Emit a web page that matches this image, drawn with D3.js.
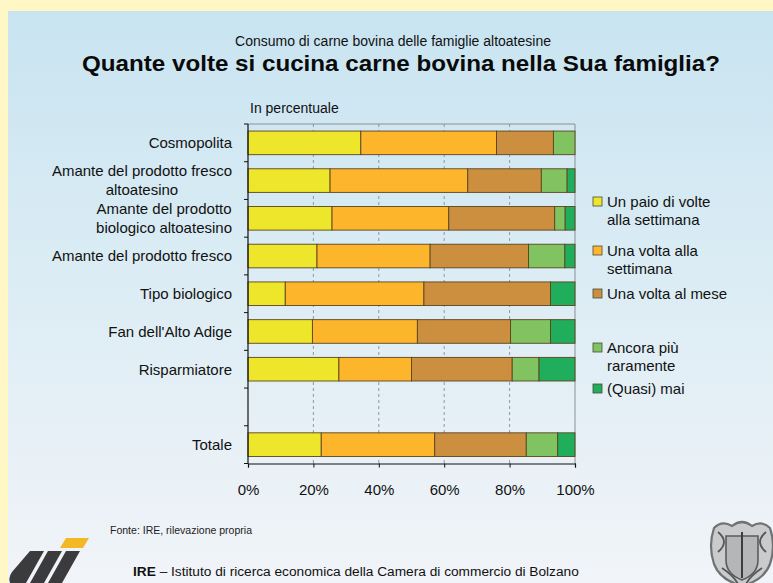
<!DOCTYPE html>
<html>
<head>
<meta charset="utf-8">
<script src="https://cdn.jsdelivr.net/npm/d3@7"></script>
<style>
  html, body { margin: 0; padding: 0; background: #FFF8C6; }
  svg { display: block; font-family: "Liberation Sans", Arial, Helvetica, sans-serif; }
</style>
</head>
<body>
<script>
// Consumption of beef in South Tyrolean households, by consumer type (percent)
const categories = [
  "Cosmopolita",
  "Amante del prodotto fresco\naltoatesino",
  "Amante del prodotto\nbiologico altoatesino",
  "Amante del prodotto fresco",
  "Tipo biologico",
  "Fan dell'Alto Adige",
  "Risparmiatore",
  "Totale"
];

const seriesNames = [
  "Un paio di volte\nalla settimana",
  "Una volta alla\nsettimana",
  "Una volta al mese",
  "Ancora più\nraramente",
  "(Quasi) mai"
];

const paioDiVolte   = [34.5, 25.1, 25.7, 21.1, 11.4, 19.7, 27.8, 22.4];
const unaSettimana  = [41.5, 42.1, 35.7, 34.6, 42.4, 32.1, 22.2, 34.7];
const unaMese       = [17.4, 22.5, 32.4, 30.1, 38.7, 28.5, 30.8, 28.0];
const piuRaramente  = [ 6.6,  7.9,  3.2, 11.1,  0.0, 12.2,  8.2,  9.6];
const quasiMai      = [ 0.0,  2.4,  3.0,  3.1,  7.5,  7.5, 11.0,  5.3];

const xTicks = [0, 20, 40, 60, 80, 100];

const seriesValues = [paioDiVolte, unaSettimana, unaMese, piuRaramente, quasiMai];
const colors = ["#EEE62B", "#FDB62B", "#CC8F3F", "#80C360", "#20AD5C"];

// ---- layout ----
const W = 773, H = 583;
const plot = { left: 248, right: 575, top: 124, bottom: 463.5 };
const GAP = "__gap__";
const rowKeys = [...categories.slice(0, 7), GAP, categories[7]];

const table = categories.map((c, j) => {
  const row = { category: c };
  seriesNames.forEach((s, i) => row[s] = seriesValues[i][j]);
  return row;
});
const stacked = d3.stack().keys(seriesNames)(table);

const svg = d3.select("body").append("svg")
  .attr("width", W).attr("height", H);

// background panel with soft vertical gradient
const defs = svg.append("defs");
const grad = defs.append("linearGradient")
  .attr("id", "panelGrad").attr("x1", 0).attr("y1", 0).attr("x2", 0).attr("y2", 1);
grad.append("stop").attr("offset", 0).attr("stop-color", "#C8E4F1");
grad.append("stop").attr("offset", 0.45).attr("stop-color", "#DBECF4");
grad.append("stop").attr("offset", 1).attr("stop-color", "#F1F4F8");

svg.append("rect").attr("width", W).attr("height", H).attr("fill", "#FFF8C6");
svg.append("rect").attr("x", 8).attr("y", 11).attr("width", W - 8).attr("height", H - 11)
  .attr("fill", "url(#panelGrad)");

// titles
svg.append("text")
  .attr("x", 393).attr("y", 46).attr("text-anchor", "middle")
  .attr("font-size", 14).attr("fill", "#111")
  .text("Consumo di carne bovina delle famiglie altoatesine");

svg.append("text")
  .attr("x", 82).attr("y", 71)
  .attr("font-size", 22).attr("font-weight", "bold").attr("fill", "#0a0a0a")
  .attr("textLength", 638).attr("lengthAdjust", "spacingAndGlyphs")
  .text("Quante volte si cucina carne bovina nella Sua famiglia?");

svg.append("text")
  .attr("x", 250).attr("y", 113)
  .attr("font-size", 14).attr("fill", "#111")
  .text("In percentuale");

// scales
const x = d3.scaleLinear().domain([0, 100]).range([plot.left, plot.right]);
const y = d3.scaleBand().domain(rowKeys).range([plot.top, plot.bottom])
  .paddingInner(0.374).paddingOuter(0.187);

// frame (top and right)
svg.append("path")
  .attr("d", `M${plot.left},${plot.top}H${plot.right}V${plot.bottom}`)
  .attr("fill", "none").attr("stroke", "#8a8f94").attr("stroke-width", 1);

// dashed vertical gridlines
svg.append("g").selectAll("line")
  .data(xTicks.filter(t => t > 0 && t < 100))
  .join("line")
  .attr("x1", d => x(d)).attr("x2", d => x(d))
  .attr("y1", plot.top).attr("y2", plot.bottom)
  .attr("stroke", "#8c8c8c").attr("stroke-width", 0.9)
  .attr("stroke-dasharray", "3,3");

// stacked bars
const layers = svg.append("g").selectAll("g")
  .data(stacked)
  .join("g")
  .attr("fill", (d, i) => colors[i]);

layers.selectAll("rect")
  .data(d => d.filter(p => p[1] - p[0] > 0))
  .join("rect")
  .attr("x", p => x(p[0]))
  .attr("width", p => x(p[1]) - x(p[0]))
  .attr("y", p => y(p.data.category))
  .attr("height", y.bandwidth())
  .attr("stroke", "#5a4420").attr("stroke-width", 0.9);

// left axis: line plus ticks at band boundaries
const halfGap = y.step() * y.paddingInner() / 2;
const boundaries = rowKeys.map(k => y(k) - halfGap).concat([plot.bottom]);
const yAxis = svg.append("g");
yAxis.append("line")
  .attr("x1", plot.left).attr("x2", plot.left)
  .attr("y1", plot.top).attr("y2", plot.bottom)
  .attr("stroke", "#111").attr("stroke-width", 1.2);
yAxis.selectAll("line.tk").data(boundaries).join("line").attr("class", "tk")
  .attr("x1", plot.left - 4).attr("x2", plot.left)
  .attr("y1", d => d).attr("y2", d => d)
  .attr("stroke", "#111").attr("stroke-width", 1);

// category labels (multi-line, centred within a right-aligned block)
const labelRight = 232;
const lineH = 19;
categories.forEach(c => {
  const lines = c.split("\n");
  const cy = y(c) + y.bandwidth() / 2;
  const g = svg.append("g");
  const texts = lines.map((ln, i) => g.append("text")
    .attr("y", cy + (i - (lines.length - 1) / 2) * lineH)
    .attr("dy", "0.36em")
    .attr("font-size", 15).attr("fill", "#111")
    .text(ln));
  const widths = texts.map(t => t.node().getComputedTextLength());
  const maxW = d3.max(widths);
  texts.forEach(t => t.attr("x", labelRight - maxW / 2).attr("text-anchor", "middle"));
});

// bottom axis
const xAxis = svg.append("g")
  .attr("transform", `translate(0,${plot.bottom})`)
  .call(d3.axisBottom(x).tickValues(xTicks).tickFormat(d => d + "%").tickSize(4).tickPadding(17));
xAxis.select(".domain").attr("stroke", "#111").attr("stroke-width", 1.2);
xAxis.selectAll(".tick line").attr("stroke", "#111");
xAxis.selectAll(".tick text")
  .attr("font-size", 15).attr("fill", "#111")
  .attr("font-family", "'Liberation Sans', Arial, sans-serif");

// legend
const legendX = 593;
const legendBase = [207, 256, 299, 353, 394];
const legendLineH = 17.5;
seriesNames.forEach((s, i) => {
  const g = svg.append("g");
  g.append("rect")
    .attr("x", legendX).attr("y", legendBase[i] - 10)
    .attr("width", 9).attr("height", 9)
    .attr("fill", colors[i]).attr("stroke", "#4a4a3a").attr("stroke-width", 0.8);
  s.split("\n").forEach((ln, k) => {
    g.append("text")
      .attr("x", legendX + 14).attr("y", legendBase[i] + k * legendLineH)
      .attr("font-size", 15).attr("fill", "#111")
      .text(ln);
  });
});

// source note and footer
svg.append("text")
  .attr("x", 110).attr("y", 534)
  .attr("font-size", 11).attr("fill", "#222")
  .attr("textLength", 142).attr("lengthAdjust", "spacingAndGlyphs")
  .text("Fonte: IRE, rilevazione propria");

const footer = svg.append("text")
  .attr("x", 133).attr("y", 576)
  .attr("font-size", 13.7).attr("fill", "#111");
footer.append("tspan").attr("font-weight", "bold").text("IRE");
footer.append("tspan").text(" – Istituto di ricerca economica della Camera di commercio di Bolzano");

// IRE logo: slanted dark bands with a yellow accent
const logo = svg.append("g");
logo.append("path")
  .attr("d", "M66,538 L89,538 L83,548 L60,548 Z")
  .attr("fill", "#F2B924");
const bands = [
  "M30,551 L44,551 L26,583 L10,583 Q8,578 12,572 Z",
  "M48,551 L62,551 L44,583 L30,583 Z",
  "M66,551 L80,551 L62,583 L48,583 Z"
];
logo.selectAll("path.band").data(bands).join("path").attr("class", "band")
  .attr("d", d => d).attr("fill", "#3b3b3d");

// chamber of commerce crest (greyscale emblem)
const crest = svg.append("g").attr("transform", "translate(742,556)");
crest.append("path")
  .attr("d", "M-28,-28 Q-20,-36 -10,-30 Q0,-38 10,-30 Q20,-36 28,-28 Q34,-10 28,8 Q22,24 0,30 Q-22,24 -28,8 Q-34,-10 -28,-28 Z")
  .attr("fill", "#c9cbcd").attr("stroke", "#707274").attr("stroke-width", 2.2);
crest.append("path")
  .attr("d", "M-16,-20 H16 V4 Q16,18 0,24 Q-16,18 -16,4 Z")
  .attr("fill", "#b4b6b8").attr("stroke", "#5a5c5e").attr("stroke-width", 1.6);
crest.append("line").attr("x1", 0).attr("x2", 0).attr("y1", -24).attr("y2", 22)
  .attr("stroke", "#3c3d3f").attr("stroke-width", 2);
crest.append("path")
  .attr("d", "M-24,-24 Q-12,-14 -24,-4 M24,-24 Q12,-14 24,-4 M-20,12 Q-8,20 -4,28 M20,12 Q8,20 4,28")
  .attr("fill", "none").attr("stroke", "#55575a").attr("stroke-width", 1.8);
</script>
</body>
</html>
